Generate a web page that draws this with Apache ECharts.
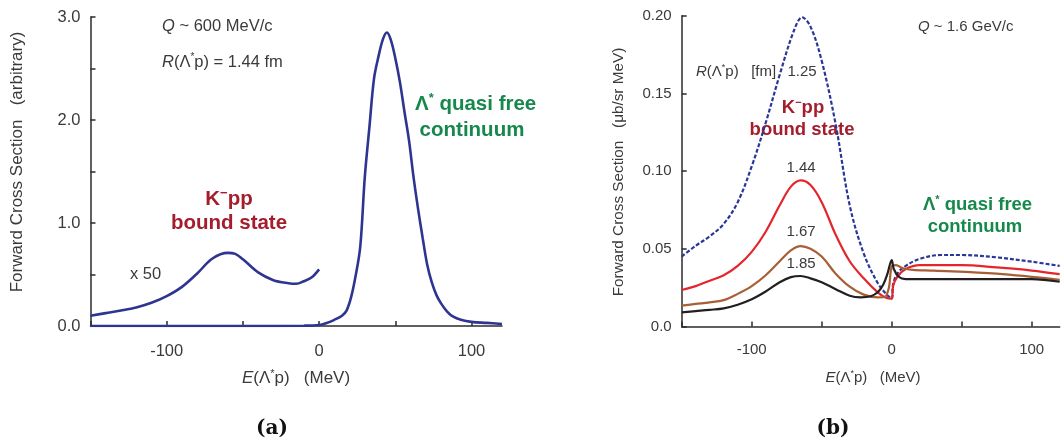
<!DOCTYPE html>
<html>
<head>
<meta charset="utf-8">
<script src="https://cdn.jsdelivr.net/npm/echarts@6/dist/echarts.min.js"></script>
<style>
  html, body { margin: 0; padding: 0; background: #ffffff; }
  #chart { width: 1062px; height: 444px; }
</style>
</head>
<body>
<div id="chart"></div>
<script>
// ---- Panel (a): Q ~ 600 MeV/c, R = 1.44 fm ----
const energyA = [-150, -100, -50, -10, 0, 5, 10, 15, 18, 21, 24, 27, 30, 33, 36, 39, 42, 44.5, 47, 50, 53, 56, 59, 62, 65, 68, 71, 74, 77, 80, 84, 88, 93, 100, 110, 120];
const sigmaA  = [0, 0, 0, 0.003, 0.01, 0.03, 0.06, 0.1, 0.15, 0.28, 0.49, 0.77, 1.45, 1.93, 2.4, 2.62, 2.79, 2.85, 2.78, 2.6, 2.37, 2.08, 1.8, 1.44, 1.13, 0.85, 0.59, 0.42, 0.3, 0.22, 0.14, 0.09, 0.06, 0.04, 0.03, 0.02];
// bound-state region magnified x 50
const energyA50 = [-150, -140, -130, -120, -110, -100, -90, -80, -70, -60, -55, -50, -40, -30, -20, -15, -10, -5, 0];
const sigmaA50  = [0.10, 0.125, 0.15, 0.18, 0.225, 0.29, 0.38, 0.51, 0.655, 0.71, 0.70, 0.648, 0.52, 0.445, 0.415, 0.41, 0.435, 0.47, 0.55];

// ---- Panel (b): Q ~ 1.6 GeV/c, one curve per R(Λ*p) ----
const energyB125 = [-150, -140, -130, -120, -110, -100, -90, -80, -70, -64, -58, -50, -40, -30, -20, -10, -4, 0, 1, 4, 10, 20, 35, 50, 75, 100, 120];
const sigmaB125  = [0.045, 0.052, 0.058, 0.066, 0.080, 0.103, 0.131, 0.162, 0.190, 0.199, 0.193, 0.171, 0.130, 0.078, 0.047, 0.028, 0.021, 0.018, 0.027, 0.034, 0.039, 0.0435, 0.046, 0.046, 0.0445, 0.0417, 0.039];

const energyB144 = [-150, -140, -130, -120, -110, -100, -90, -80, -72, -65, -58, -50, -40, -30, -20, -10, -4, 0, 1, 4, 10, 20, 50, 75, 100, 120];
const sigmaB144  = [0.0235, 0.026, 0.0295, 0.033, 0.039, 0.048, 0.061, 0.078, 0.090, 0.094, 0.091, 0.080, 0.059, 0.042, 0.031, 0.022, 0.0185, 0.018, 0.026, 0.032, 0.037, 0.0395, 0.0395, 0.038, 0.036, 0.0337];

const energyB167 = [-150, -140, -130, -120, -110, -100, -90, -80, -72, -65, -58, -50, -40, -30, -20, -10, -5, -2, 0, 3, 8, 15, 30, 75, 120];
const sigmaB167  = [0.0134, 0.0145, 0.0155, 0.017, 0.021, 0.026, 0.033, 0.042, 0.049, 0.0517, 0.050, 0.045, 0.034, 0.0256, 0.0205, 0.0188, 0.019, 0.025, 0.0385, 0.0395, 0.0375, 0.0365, 0.036, 0.034, 0.030];

const energyB185 = [-150, -140, -130, -120, -110, -100, -90, -80, -72, -65, -58, -50, -40, -30, -22, -15, -10, -6, -3, 0, 1.5, 5, 10, 50, 100, 120];
const sigmaB185  = [0.0091, 0.0099, 0.0107, 0.0117, 0.014, 0.0175, 0.0225, 0.0285, 0.0318, 0.0325, 0.031, 0.0285, 0.024, 0.0198, 0.0188, 0.0195, 0.022, 0.027, 0.034, 0.0428, 0.037, 0.032, 0.0305, 0.0305, 0.0305, 0.0288];

// ---- axis ticks and labels ----
const xTicks = [-150, -100, -50, 0, 50, 100];
const xLabels = [-100, 0, 100];
const yTicksA = [0, 0.5, 1, 1.5, 2, 2.5, 3];
const yLabelsA = [0, 1, 2, 3];
const yTicksB = [0, 0.05, 0.1, 0.15, 0.2];

const SANS = '"Liberation Sans", Arial, Helvetica, sans-serif';
const SERIF = '"DejaVu Serif", "Liberation Serif", serif';
const AXIS = '#2b2b2b';
const TEXT = '#3a3a3a';
const NAVY = '#2e3590';
const RED_TXT = '#a51d2d';
const GREEN_TXT = '#17884c';

const zip = (xs, ys) => xs.map((x, i) => [x, ys[i]]);

function xAxisCfg(grid, size, margin) {
  return {
    type: 'value', gridIndex: grid, min: -150, max: 120, interval: 50,
    axisLine: { show: true, onZero: false, lineStyle: { color: AXIS, width: 1.5 } },
    axisTick: { show: true, inside: true, length: 5, customValues: xTicks, lineStyle: { color: AXIS, width: 1.5 } },
    axisLabel: { customValues: xLabels, margin: margin, color: TEXT, fontFamily: SANS, fontSize: size },
    splitLine: { show: false }
  };
}
function yAxisCfg(grid, max, interval, ticks, labels, fmt, size) {
  return {
    type: 'value', gridIndex: grid, min: 0, max: max, interval: interval,
    axisLine: { show: true, onZero: false, lineStyle: { color: AXIS, width: 1.5 } },
    axisTick: { show: true, inside: true, length: 5, customValues: ticks, lineStyle: { color: AXIS, width: 1.5 } },
    axisLabel: { customValues: labels, margin: 10, color: TEXT, fontFamily: SANS, fontSize: size, formatter: fmt },
    splitLine: { show: false }
  };
}
function line(xi, data, color, width, type) {
  return {
    type: 'line', xAxisIndex: xi, yAxisIndex: xi, data: data,
    showSymbol: false, symbol: 'none', smooth: 0.35,
    lineStyle: { color: color, width: width, type: type || 'solid' },
    silent: true
  };
}

function rich(size, color, weight) {
  const base = { fontFamily: SANS, fontSize: size, fill: color, fontWeight: weight, lineHeight: Math.round(size * 1.2) };
  return {
    n: Object.assign({}, base),
    i: Object.assign({}, base, { fontStyle: 'italic' }),
    s: Object.assign({}, base, { fontSize: Math.round(size * 0.62), lineHeight: Math.round(size * 0.62), verticalAlign: 'top' })
  };
}
function txt(x, y, text, size, color, opts) {
  opts = opts || {};
  const weight = opts.weight || 'normal';
  return {
    type: 'text', x: x, y: y, rotation: opts.rot || 0, silent: true,
    style: {
      text: text, align: opts.align || 'left', verticalAlign: 'middle',
      fontFamily: opts.family || SANS, fontSize: size, fontWeight: weight, fill: color,
      rich: opts.family ? undefined : rich(size, color, weight)
    }
  };
}

const chart = echarts.init(document.getElementById('chart'), null, { renderer: 'canvas' });
chart.setOption({
  animation: false,
  backgroundColor: '#ffffff',
  grid: [
    { left: 90.5, top: 17, width: 411.5, height: 309, outerBoundsMode: 'none', containLabel: false },
    { left: 681.7, top: 15.7, width: 378, height: 310.8, outerBoundsMode: 'none', containLabel: false }
  ],
  xAxis: [xAxisCfg(0, 16.5, 17), xAxisCfg(1, 15, 16)],
  yAxis: [
    yAxisCfg(0, 3, 0.5, yTicksA, yLabelsA, v => v.toFixed(1), 16.5),
    yAxisCfg(1, 0.2, 0.05, yTicksB, yTicksB, v => (v === 0 ? '0.0' : v.toFixed(2)), 15)
  ],
  series: [
    line(0, zip(energyA, sigmaA), NAVY, 2.6),
    line(0, zip(energyA50, sigmaA50), NAVY, 2.6),
    line(1, zip(energyB125, sigmaB125), '#2a3798', 2.2, [4, 2]),
    line(1, zip(energyB144, sigmaB144), '#e4262c', 2.2),
    line(1, zip(energyB167, sigmaB167), '#a75f35', 2.2),
    line(1, zip(energyB185, sigmaB185), '#231f20', 2.2)
  ],
  graphic: [
    // panel (a) annotations
    txt(162, 26, '{i|Q}{n| ~ 600 MeV/c}', 16.5, TEXT),
    txt(162, 62, '{i|R}{n|(Λ}{s|*}{n|p) = 1.44 fm}', 16.5, TEXT),
    txt(229, 199, '{n|K}{s|−}{n|pp}', 20.5, RED_TXT, { align: 'center', weight: 'bold' }),
    txt(229, 223, '{n|bound state}', 20.5, RED_TXT, { align: 'center', weight: 'bold' }),
    txt(130, 274, '{n|x 50}', 16.5, TEXT),
    txt(415, 104, '{n|Λ}{s|*}{n| quasi free}', 20.5, GREEN_TXT, { weight: 'bold' }),
    txt(472, 130, '{n|continuum}', 20.5, GREEN_TXT, { align: 'center', weight: 'bold' }),
    txt(17.5, 162, '{n|Forward Cross Section   (arbitrary)}', 17, TEXT, { align: 'center', rot: Math.PI / 2 }),
    txt(296, 378, '{i|E}{n|(Λ}{s|*}{n|p)   (MeV)}', 17, TEXT, { align: 'center' }),
    // panel (b) annotations
    txt(918, 27, '{i|Q}{n| ~ 1.6 GeV/c}', 15, TEXT),
    txt(696, 72, '{i|R}{n|(Λ}{s|*}{n|p)   [fm]}', 15, TEXT),
    txt(802, 72, '{n|1.25}', 15, TEXT, { align: 'center' }),
    txt(801, 168, '{n|1.44}', 15, TEXT, { align: 'center' }),
    txt(801, 232, '{n|1.67}', 15, TEXT, { align: 'center' }),
    txt(801, 264, '{n|1.85}', 15, TEXT, { align: 'center' }),
    txt(803, 108, '{n|K}{s|−}{n|pp}', 18.5, RED_TXT, { align: 'center', weight: 'bold' }),
    txt(802, 130, '{n|bound state}', 18.5, RED_TXT, { align: 'center', weight: 'bold' }),
    txt(923, 205, '{n|Λ}{s|*}{n| quasi free}', 18.5, GREEN_TXT, { weight: 'bold' }),
    txt(975, 227, '{n|continuum}', 18.5, GREEN_TXT, { align: 'center', weight: 'bold' }),
    txt(619, 172, '{n|Forward Cross Section   (μb/sr MeV)}', 15.3, TEXT, { align: 'center', rot: Math.PI / 2 }),
    txt(873, 378, '{i|E}{n|(Λ}{s|*}{n|p)   (MeV)}', 15, TEXT, { align: 'center' }),
    // panel captions
    txt(272, 429, '(a)', 20, '#111111', { align: 'center', weight: 'bold', family: SERIF }),
    txt(833, 429, '(b)', 20, '#111111', { align: 'center', weight: 'bold', family: SERIF })
  ]
});
</script>
</body>
</html>
